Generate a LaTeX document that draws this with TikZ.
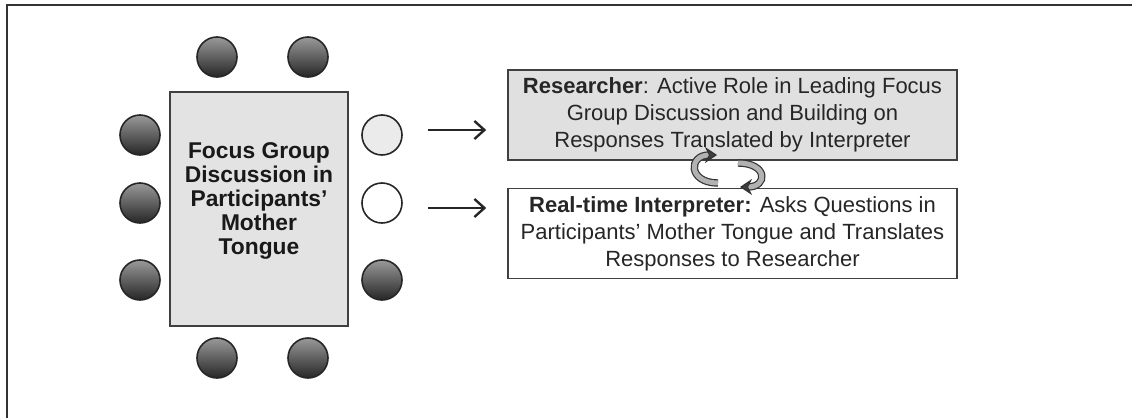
\documentclass[tikz,border=0pt]{standalone}
\usepackage{fontspec}
\setmainfont{Liberation Sans}
\usetikzlibrary{positioning,arrows.meta}
\definecolor{tablegray}{HTML}{E3E3E3}

\begin{document}
\begin{tikzpicture}[x=0.5pt,y=-0.5pt]
    \tikzstyle{seat}=[circle, draw=black!85, thick, minimum size=20pt, inner sep=0pt, top color=black!40, bottom color=black!85]
    \tikzstyle{emptyseat}=[circle, draw=black!85, thick, minimum size=20pt, inner sep=0pt]
    \tikzstyle{role}=[draw=black!75, thick, minimum width=224.5pt, minimum height=45pt, align=center, font=\fontsize{11}{13.5}\selectfont, text=black!85]
    \tikzstyle{pointer}=[-{Straight Barb[length=5pt,width=9pt,line width=1.2pt]}, line width=1.2pt, black!85, shorten <=12.5pt, shorten >=10.5pt]
    \tikzstyle{swap}=[-{Stealth[length=6pt,width=8pt,fill=black!75]}, draw=black!80, line width=0.6pt, double=black!30, double distance=2.5pt]

    \useasboundingbox (0,0) rectangle (1132,418);
    \draw [black!80, line width=1pt] (1132,5) -- (6.5,5) -- (6.5,418);

    % table and seats
    \node (Table) [draw=black!75, thick, fill=tablegray, minimum width=89pt, minimum height=117pt] at (259,209) {};
    \node (TableText) [align=center, font=\bfseries\fontsize{11.4}{12}\selectfont, text=black!90] at (259,201) {Focus Group\\Discussion in\\Participants'\\Mother\\Tongue};

    \node (SeatT1) [seat] at (217,57) {};
    \node (SeatT2) [seat] at (308,57) {};
    \node (SeatL1) [seat] at (140,135) {};
    \node (SeatL2) [seat] at (140,203) {};
    \node (SeatL3) [seat] at (140,280) {};
    \node (SeatR1) [emptyseat, fill=black!8] at (382,135) {};
    \node (SeatR2) [emptyseat, fill=white] at (382,203) {};
    \node (SeatR3) [seat] at (382,280) {};
    \node (SeatB1) [seat] at (217,358) {};
    \node (SeatB2) [seat] at (308,358) {};

    % roles
    \node (Res) [role, fill=black!12] at (732.5,115) {\textbf{Researcher}: Active Role in Leading Focus\\Group Discussion and Building on\\Responses Translated by Interpreter};
    \node (Int) [role, fill=white, below=13.5pt of Res] {\textbf{Real-time Interpreter:} Asks Questions in\\Participants' Mother Tongue and Translates\\Responses to Researcher};

    \draw [pointer] ([yshift=2.5pt]SeatR1.east) -- ([yshift=2.5pt]SeatR1.east -| Res.west);
    \draw [pointer] ([yshift=-2.5pt]SeatR2.east) -- ([yshift=-2.5pt]SeatR2.east -| Int.west);

    % exchange between researcher and interpreter
    \coordinate (CycleUpFrom) at (718,183);
    \coordinate (CycleUp) at (717,155);
    \coordinate (CycleDownFrom) at (738,163);
    \coordinate (CycleDown) at (740,187);
    \draw [swap] (CycleUpFrom) .. controls (688,183) and (688,155) .. (CycleUp);
    \draw [swap] (CycleDownFrom) .. controls (768,163) and (768,187) .. (CycleDown);

\end{tikzpicture}
\end{document}
